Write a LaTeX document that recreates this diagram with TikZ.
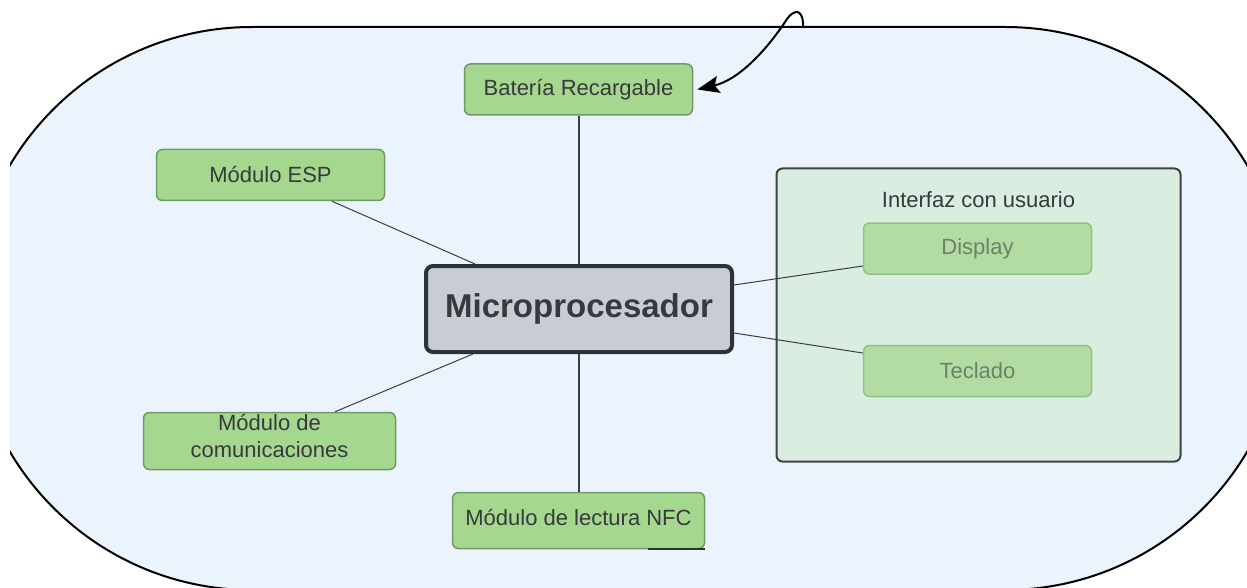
\documentclass[tikz,border=0pt]{standalone}
\usepackage{fontspec}
\setmainfont{Liberation Sans}
\usetikzlibrary{arrows.meta,calc}
\definecolor{bgblue}{HTML}{EBF3FC}
\definecolor{gfill}{HTML}{A6D78F}
\definecolor{gdraw}{HTML}{6F9A66}
\definecolor{txt}{HTML}{363A3C}
\definecolor{mfill}{HTML}{C8CDD5}
\definecolor{mdraw}{HTML}{2D3236}
\definecolor{uifill}{HTML}{D9EDE0}
\definecolor{uidraw}{HTML}{3E4348}
\definecolor{dfill}{HTML}{B3DCA2}
\definecolor{ddraw}{HTML}{93C086}
\definecolor{dtxt}{HTML}{6E7F6A}
\definecolor{lnk}{HTML}{3A3E42}
\tikzset{
  greenbox/.style={draw=gdraw, fill=gfill, line width=1.5pt, rounded corners=6pt,
    text=txt, font=\fontsize{22}{27}\selectfont, inner sep=0pt, align=center},
  microbox/.style={draw=mdraw, fill=mfill, line width=4pt, rounded corners=7pt,
    text=txt, font=\fontsize{33}{38}\selectfont\bfseries, inner sep=0pt,
    minimum width=306pt, minimum height=86pt},
  uibox/.style={draw=uidraw, fill=uifill, line width=2pt, rounded corners=6pt,
    inner sep=0pt, minimum width=404pt, minimum height=293pt},
  fadebox/.style={draw=ddraw, fill=dfill, line width=1.5pt, rounded corners=6pt,
    text=dtxt, font=\fontsize{22}{27}\selectfont, inner sep=0pt,
    minimum width=228pt, minimum height=51pt},
  link/.style={draw=lnk, line width=1pt},
  thicklink/.style={draw=lnk, line width=2pt},
}
\begin{document}
\begin{tikzpicture}[x=1pt,y=-1pt]
\path[use as bounding box] (0,0) rectangle (1247,588);
% background stadium
\begin{scope}
  \clip (10,-5) rectangle (1250,593);
  \draw[fill=bgblue, draw=black, line width=2pt, rounded corners=281pt] (-29,27) rectangle (1286,590);
\end{scope}
% container
\node[uibox] (ui) at (978.5,315) {};
\node[text=txt, font=\fontsize{22}{27}\selectfont, inner sep=0pt] (uititle) at (978.5,200) {Interfaz con usuario};
% nodes
\node[greenbox, minimum width=228pt, minimum height=51pt] (bat) at (578.5,89.5) {Batería Recargable};
\node[greenbox, minimum width=228pt, minimum height=51pt] (esp) at (270.5,175) {Módulo ESP};
\node[microbox] (micro) at (579,309) {Microprocesador};
\node[greenbox, minimum width=252pt, minimum height=57pt] (com) at (269.5,441) {};
\node[text=txt, font=\fontsize{22}{27}\selectfont, inner sep=0pt, align=center] (comtext) at (269.5,436) {Módulo de\\comunicaciones};
\node[greenbox, minimum width=252pt, minimum height=56pt] (nfc) at (578.5,520.5) {};
\node[text=txt, font=\fontsize{22}{27}\selectfont, inner sep=0pt] (nfctext) at (578.5,518) {Módulo de lectura NFC};
\node[fadebox] (disp) at (977.5,248.5) {Display};
\node[fadebox] (tec) at (977.5,371) {Teclado};
% connectors
\draw[thicklink] (bat.south) -- (bat.south |- micro.north);
\draw[thicklink] (nfc.north) -- (nfc.north |- micro.south);
\draw[link] ($(esp.south)+(61.5pt,0)$) -- ($(micro.north)+(-104pt,0)$);
\draw[link] ($(com.north)+(65.5pt,0)$) -- ($(micro.south)+(-106pt,0)$);
\draw[link] ($(micro.east)+(0,24pt)$) -- ($(disp.west)+(0,-17.5pt)$);
\draw[link] ($(micro.east)+(0,-24pt)$) -- ($(tec.west)+(0,18pt)$);
% small dark segment under NFC
\draw[draw=mdraw, line width=2pt] ($(nfc.south east)+(-57pt,0)$) -- (nfc.south east);
% arrow into battery
\coordinate (loopstart) at (803,28);
\draw[black, line width=2pt, -{Stealth[length=22pt,width=17pt,inset=4pt]}]
  (loopstart) .. controls (804,10) and (795,6) .. (785,22)
  .. controls (765,52) and (738,80) .. ($(bat.east)+(4pt,0)$);
\end{tikzpicture}
\end{document}
